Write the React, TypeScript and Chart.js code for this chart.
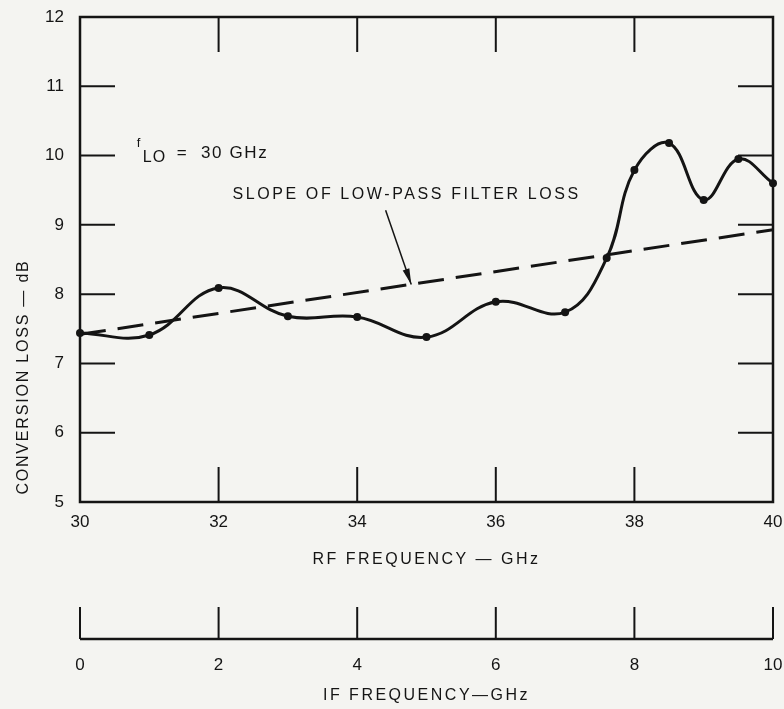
import React, { useEffect, useRef } from "react";
import { Chart, registerables } from "chart.js";

Chart.register(...registerables);

// ---------------- data ----------------
const rfFrequencyGHz = [30, 31, 32, 33, 34, 35, 36, 37, 37.6, 38, 38.5, 39, 39.5, 40];
const conversionLossDb = [7.44, 7.41, 8.09, 7.68, 7.67, 7.38, 7.89, 7.74, 8.52, 9.79, 10.18, 9.36, 9.95, 9.6];
const slopeFrequencyGHz = [30, 40];
const slopeLossDb = [7.42, 8.93];
const rfTickValues = [30, 32, 34, 36, 38, 40];
const ifTickValues = [0, 2, 4, 6, 8, 10];
const lossTickValues = [5, 6, 7, 8, 9, 10, 11, 12];

const yAxisTitle = "CONVERSION LOSS \u2014 dB";
const rfAxisTitle = "RF FREQUENCY \u2014 GHz";
const ifAxisTitle = "IF FREQUENCY\u2014GHz";
const loLabelF = "f";
const loLabelSub = "LO";
const loLabelRest = "=  30 GHz";
const slopeLabel = "SLOPE OF LOW-PASS FILTER LOSS";
// annotation anchors, in data units (RF GHz, dB)
const loLabelAt = { x: 30.82, y: 10.0 };
const slopeLabelAt = { x: 32.2, y: 9.43 };
const arrowFrom = { x: 34.41, y: 9.21 };
const arrowTo = { x: 34.78, y: 8.14 };

// ---------------- style ----------------
const INK = "#141414";
const PAPER = "#f4f4f1";
const FONT = "'Liberation Sans', Helvetica, Arial, sans-serif";
const TICK_IN = 35;
const IF_TICK = 32;
const IF_AXIS_OFFSET = 59;

const noScalePadding = (s: any) => {
  s.paddingLeft = 0;
  s.paddingRight = 0;
  s.paddingTop = 0;
  s.paddingBottom = 0;
};

const framePlugin = {
  id: "frame",
  beforeDraw(chart: any) {
    const { ctx, width, height } = chart;
    ctx.save();
    ctx.fillStyle = PAPER;
    ctx.fillRect(0, 0, width, height);
    ctx.restore();
  },
  beforeDatasetsDraw(chart: any) {
    const { ctx, chartArea: a, scales } = chart;
    const x = scales.x, y = scales.y, x2 = scales.x2;
    ctx.save();
    ctx.strokeStyle = INK;
    ctx.lineWidth = 2.5;
    ctx.lineCap = "square";
    ctx.strokeRect(a.left, a.top, a.right - a.left, a.bottom - a.top);
    ctx.lineWidth = 2;
    ctx.lineCap = "butt";
    ctx.beginPath();
    lossTickValues.slice(1, -1).forEach((v) => {
      const py = y.getPixelForValue(v);
      ctx.moveTo(a.left, py);
      ctx.lineTo(a.left + TICK_IN, py);
      ctx.moveTo(a.right, py);
      ctx.lineTo(a.right - TICK_IN, py);
    });
    rfTickValues.slice(1, -1).forEach((v) => {
      const px = x.getPixelForValue(v);
      ctx.moveTo(px, a.top);
      ctx.lineTo(px, a.top + TICK_IN);
      ctx.moveTo(px, a.bottom);
      ctx.lineTo(px, a.bottom - TICK_IN);
    });
    ctx.stroke();

    // IF frequency axis
    const base = x2.top + IF_AXIS_OFFSET;
    ctx.lineWidth = 2.5;
    ctx.beginPath();
    ctx.moveTo(x2.getPixelForValue(ifTickValues[0]), base);
    ctx.lineTo(x2.getPixelForValue(ifTickValues[ifTickValues.length - 1]), base);
    ctx.stroke();
    ctx.lineWidth = 2;
    ctx.beginPath();
    ifTickValues.forEach((v) => {
      const px = x2.getPixelForValue(v);
      ctx.moveTo(px, base);
      ctx.lineTo(px, base - IF_TICK);
    });
    ctx.stroke();
    ctx.restore();
  },
  afterDatasetsDraw(chart: any) {
    const { ctx, chartArea: a, scales } = chart;
    const x = scales.x, y = scales.y, x2 = scales.x2;
    ctx.save();
    ctx.fillStyle = INK;
    ctx.strokeStyle = INK;
    ctx.textBaseline = "middle";

    // axis titles
    ctx.font = `16px ${FONT}`;
    (ctx as any).letterSpacing = "2.5px";
    ctx.textAlign = "center";
    const cx = (a.left + a.right) / 2;
    ctx.fillText(rfAxisTitle, cx, x.top + 58);
    ctx.fillText(ifAxisTitle, cx, x2.top + 116);

    ctx.save();
    (ctx as any).letterSpacing = "1.8px";
    ctx.translate(24, a.top + 360);
    ctx.rotate(-Math.PI / 2);
    ctx.fillText(yAxisTitle, 0, 0);
    ctx.restore();

    // f_LO label
    const lx = x.getPixelForValue(loLabelAt.x);
    const ly = y.getPixelForValue(loLabelAt.y);
    ctx.textAlign = "left";
    (ctx as any).letterSpacing = "0px";
    ctx.font = `13px ${FONT}`;
    ctx.fillText(loLabelF, lx, ly - 12);
    ctx.font = `16px ${FONT}`;
    (ctx as any).letterSpacing = "1px";
    ctx.fillText(loLabelSub, lx + 6, ly + 2);
    ctx.font = `17px ${FONT}`;
    (ctx as any).letterSpacing = "1.6px";
    ctx.fillText(loLabelRest, lx + 40, ly - 2);

    // slope label
    ctx.font = `16px ${FONT}`;
    (ctx as any).letterSpacing = "2.6px";
    ctx.fillText(slopeLabel, x.getPixelForValue(slopeLabelAt.x), y.getPixelForValue(slopeLabelAt.y));

    // arrow
    const ax0 = x.getPixelForValue(arrowFrom.x), ay0 = y.getPixelForValue(arrowFrom.y);
    const ax1 = x.getPixelForValue(arrowTo.x), ay1 = y.getPixelForValue(arrowTo.y);
    ctx.lineWidth = 1.5;
    ctx.beginPath();
    ctx.moveTo(ax0, ay0);
    ctx.lineTo(ax1, ay1);
    ctx.stroke();
    const ang = Math.atan2(ay1 - ay0, ax1 - ax0);
    const hl = 16, hw = 3.5;
    ctx.beginPath();
    ctx.moveTo(ax1, ay1);
    ctx.lineTo(ax1 - hl * Math.cos(ang) + hw * Math.sin(ang), ay1 - hl * Math.sin(ang) - hw * Math.cos(ang));
    ctx.lineTo(ax1 - hl * Math.cos(ang) - hw * Math.sin(ang), ay1 - hl * Math.sin(ang) + hw * Math.cos(ang));
    ctx.closePath();
    ctx.fill();
    ctx.restore();
  },
};

export default function App() {
  const ref = useRef<HTMLCanvasElement | null>(null);
  useEffect(() => {
    document.body.style.margin = "0";
    const canvas = ref.current;
    if (!canvas) return;
    const tickFont = { family: FONT, size: 17 };
    const chart = new Chart(canvas, {
      type: "line",
      data: {
        datasets: [
          {
            label: "Conversion loss",
            data: rfFrequencyGHz.map((f, i) => ({ x: f, y: conversionLossDb[i] })),
            borderColor: INK,
            backgroundColor: INK,
            borderWidth: 3,
            tension: 0.4,
            pointRadius: 4,
            pointHoverRadius: 4,
            pointBackgroundColor: INK,
            pointBorderWidth: 0,
            clip: false,
            xAxisID: "x",
            yAxisID: "y",
          } as any,
          {
            label: "Slope of low-pass filter loss",
            data: slopeFrequencyGHz.map((f, i) => ({ x: f, y: slopeLossDb[i] })),
            borderColor: INK,
            borderWidth: 3,
            borderDash: [26, 12],
            pointRadius: 0,
            tension: 0,
            clip: false,
            xAxisID: "x",
            yAxisID: "y",
          } as any,
        ],
      },
      options: {
        animation: false,
        responsive: false,
        devicePixelRatio: 1,
        events: [],
        layout: { padding: { top: 17, right: 11, bottom: 0, left: 0 } },
        plugins: { legend: { display: false }, tooltip: { enabled: false } },
        scales: {
          x: {
            type: "linear",
            position: "bottom",
            weight: 0,
            min: rfTickValues[0],
            max: rfTickValues[rfTickValues.length - 1],
            grid: { display: false, drawTicks: false },
            border: { display: false },
            afterBuildTicks: (s: any) => {
              s.ticks = rfTickValues.map((v) => ({ value: v }));
            },
            afterFit: (s: any) => {
              s.height = 78;
              noScalePadding(s);
            },
            ticks: { padding: 10, color: INK, font: tickFont, maxRotation: 0, autoSkip: false },
          },
          x2: {
            type: "linear",
            position: "bottom",
            weight: 1,
            min: ifTickValues[0],
            max: ifTickValues[ifTickValues.length - 1],
            grid: { display: false, drawTicks: false },
            border: { display: false },
            afterBuildTicks: (s: any) => {
              s.ticks = ifTickValues.map((v) => ({ value: v }));
            },
            afterFit: (s: any) => {
              s.height = 129;
              noScalePadding(s);
            },
            ticks: { padding: 75, color: INK, font: tickFont, maxRotation: 0, autoSkip: false },
          },
          y: {
            type: "linear",
            position: "left",
            min: lossTickValues[0],
            max: lossTickValues[lossTickValues.length - 1],
            grid: { display: false, drawTicks: false },
            border: { display: false },
            afterBuildTicks: (s: any) => {
              s.ticks = lossTickValues.map((v) => ({ value: v }));
            },
            afterFit: (s: any) => {
              s.width = 80;
              noScalePadding(s);
            },
            ticks: { padding: 16, color: INK, font: tickFont, autoSkip: false },
          },
        },
      } as any,
      plugins: [framePlugin as any],
    });
    return () => chart.destroy();
  }, []);
  return (
    <div style={{ position: "absolute", left: 0, top: 0, width: 784, height: 709 }}>
      <canvas ref={ref} width={784} height={709} style={{ display: "block", width: 784, height: 709 }} />
    </div>
  );
}
